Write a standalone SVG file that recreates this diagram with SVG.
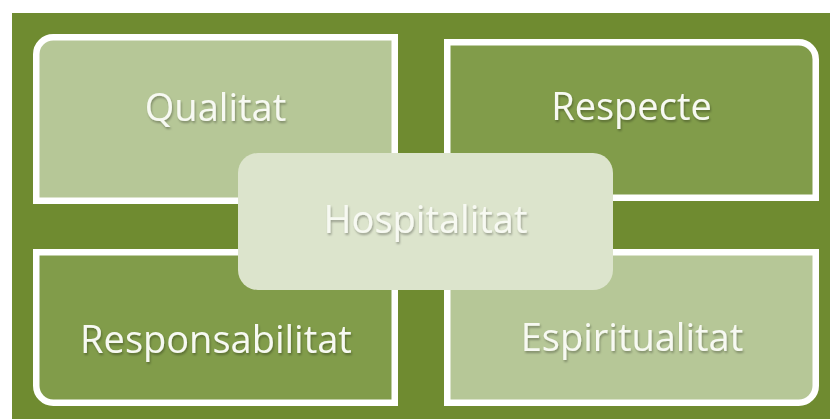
<svg xmlns="http://www.w3.org/2000/svg" width="830" height="419" viewBox="0 0 830 419">
<defs>
<filter id="sh" x="-10%" y="-20%" width="120%" height="150%">
<feDropShadow dx="1" dy="2" stdDeviation="1.2" flood-color="#000" flood-opacity="0.3"/>
</filter>
<style>
.box{stroke:#ffffff;stroke-width:6.5}
.light{fill:#b6c797}
.dark{fill:#819c4a}
.center{fill:#dce4cc}
.lbl{font-family:"Open Sans","Noto Sans","Liberation Sans",sans-serif;font-size:38px;fill:#f7f9f2;text-anchor:middle;filter:url(#sh)}
</style>
</defs>
<rect x="12" y="13" width="818" height="406" fill="#6f8b30"/>
<g id="connectors"></g>
<g id="qualitat">
<path class="box light" d="M36.25,54.25 A17,17 0 0 1 53.25,37.25 H394.75 V200.75 H36.25 Z"/>
<text class="lbl" x="215.5" y="121">Qualitat</text>
</g>
<g id="respecte">
<path class="box dark" d="M447.25,42.25 H798.75 A17,17 0 0 1 815.75,59.25 V197.75 H447.25 Z"/>
<text class="lbl" x="631.5" y="120">Respecte</text>
</g>
<g id="responsabilitat">
<path class="box dark" d="M36.25,252.25 H394.75 V402.75 H53.25 A17,17 0 0 1 36.25,385.75 Z"/>
<text class="lbl" x="216" y="353">Responsabilitat</text>
</g>
<g id="espiritualitat">
<path class="box light" d="M447.25,252.25 H815.75 V385.75 A17,17 0 0 1 798.75,402.75 H447.25 Z"/>
<text class="lbl" x="632" y="351">Espiritualitat</text>
</g>
<g id="hospitalitat">
<rect class="center" x="238" y="153" width="375" height="137" rx="20" ry="20"/>
<text class="lbl" x="425.5" y="233">Hospitalitat</text>
</g>
</svg>
